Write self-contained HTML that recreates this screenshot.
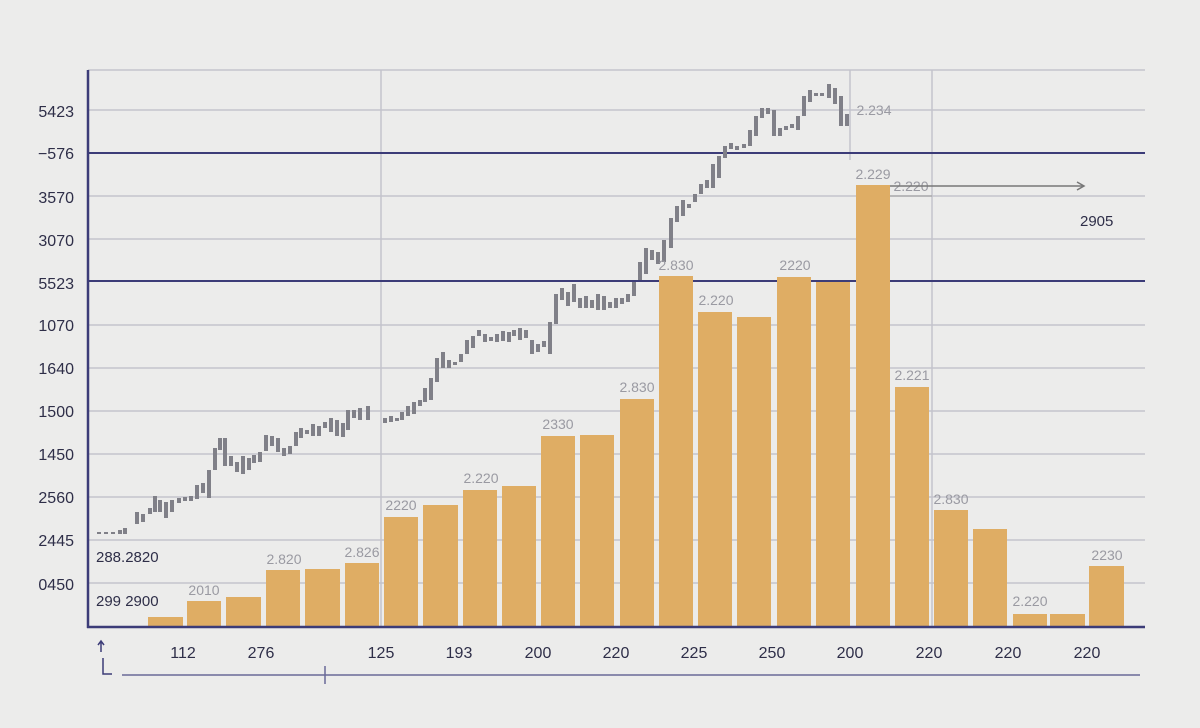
<!DOCTYPE html>
<html><head><style>
body{margin:0;background:#ececeb;}
svg{display:block}
text{font-family:"Liberation Sans",sans-serif;}
</style></head><body>
<svg width="1200" height="728" viewBox="0 0 1200 728">
<rect width="1200" height="728" fill="#ececeb"/>
<g stroke="#c4c4cc" stroke-width="1.5">
<line x1="88" y1="70" x2="1145" y2="70"/>
<line x1="88" y1="110" x2="1145" y2="110"/>
<line x1="88" y1="196" x2="1145" y2="196"/>
<line x1="88" y1="239" x2="1145" y2="239"/>
<line x1="88" y1="325" x2="1145" y2="325"/>
<line x1="88" y1="368" x2="1145" y2="368"/>
<line x1="88" y1="411" x2="1145" y2="411"/>
<line x1="88" y1="454" x2="1145" y2="454"/>
<line x1="88" y1="497" x2="1145" y2="497"/>
<line x1="88" y1="540" x2="1145" y2="540"/>
<line x1="88" y1="583" x2="1145" y2="583"/>
<line x1="381" y1="70" x2="381" y2="627"/>
<line x1="932" y1="70" x2="932" y2="627"/>
<line x1="850" y1="70" x2="850" y2="160"/>
</g>
<g stroke="#3c3c78" stroke-width="2">
<line x1="88" y1="153" x2="1145" y2="153"/>
<line x1="88" y1="281" x2="1145" y2="281"/>
</g>
<g fill="#dfad64">
<rect x="148" y="617" width="35" height="10"/>
<rect x="187" y="601" width="34" height="26"/>
<rect x="226" y="597" width="35" height="30"/>
<rect x="266" y="570" width="34" height="57"/>
<rect x="305" y="569" width="35" height="58"/>
<rect x="345" y="563" width="34" height="64"/>
<rect x="384" y="517" width="34" height="110"/>
<rect x="423" y="505" width="35" height="122"/>
<rect x="463" y="490" width="34" height="137"/>
<rect x="502" y="486" width="34" height="141"/>
<rect x="541" y="436" width="34" height="191"/>
<rect x="580" y="435" width="34" height="192"/>
<rect x="620" y="399" width="34" height="228"/>
<rect x="659" y="276" width="34" height="351"/>
<rect x="698" y="312" width="34" height="315"/>
<rect x="737" y="317" width="34" height="310"/>
<rect x="777" y="277" width="34" height="350"/>
<rect x="816" y="282" width="34" height="345"/>
<rect x="856" y="185" width="34" height="442"/>
<rect x="895" y="387" width="34" height="240"/>
<rect x="934" y="510" width="34" height="117"/>
<rect x="973" y="529" width="34" height="98"/>
<rect x="1013" y="614" width="34" height="13"/>
<rect x="1050" y="614" width="35" height="13"/>
<rect x="1089" y="566" width="35" height="61"/>
</g>
<g stroke="#3c3c78" stroke-width="2.5">
<line x1="88" y1="70" x2="88" y2="628"/>
<line x1="87" y1="627" x2="1145" y2="627"/>
</g>
<g fill="#808088">
<rect x="97" y="532" width="4" height="2"/><rect x="104" y="532" width="4" height="2"/><rect x="111" y="532" width="4" height="2"/><rect x="118" y="530" width="4" height="4"/><rect x="123" y="528" width="4" height="6"/>
<rect x="135" y="512" width="4" height="12"/><rect x="141" y="514" width="4" height="8"/><rect x="148" y="508" width="4" height="6"/><rect x="153" y="496" width="4" height="16"/><rect x="158" y="500" width="4" height="12"/><rect x="164" y="502" width="4" height="16"/><rect x="170" y="500" width="4" height="12"/><rect x="177" y="498" width="4" height="5"/><rect x="183" y="497" width="4" height="4"/><rect x="189" y="496" width="4" height="5"/><rect x="195" y="485" width="4" height="14"/><rect x="201" y="483" width="4" height="10"/><rect x="207" y="470" width="4" height="28"/><rect x="213" y="448" width="4" height="22"/><rect x="218" y="438" width="4" height="12"/><rect x="223" y="438" width="4" height="28"/><rect x="229" y="456" width="4" height="10"/><rect x="235" y="462" width="4" height="10"/><rect x="241" y="456" width="4" height="18"/><rect x="247" y="458" width="4" height="12"/><rect x="252" y="455" width="4" height="8"/><rect x="258" y="452" width="4" height="10"/><rect x="264" y="435" width="4" height="16"/><rect x="270" y="436" width="4" height="10"/><rect x="276" y="438" width="4" height="14"/><rect x="282" y="448" width="4" height="8"/><rect x="288" y="446" width="4" height="8"/><rect x="294" y="432" width="4" height="14"/><rect x="299" y="428" width="4" height="10"/><rect x="305" y="430" width="4" height="4"/><rect x="311" y="424" width="4" height="12"/><rect x="317" y="426" width="4" height="10"/><rect x="323" y="422" width="4" height="6"/><rect x="329" y="418" width="4" height="14"/><rect x="335" y="420" width="4" height="16"/><rect x="341" y="423" width="4" height="14"/><rect x="346" y="410" width="4" height="20"/><rect x="352" y="410" width="4" height="8"/><rect x="358" y="408" width="4" height="12"/><rect x="366" y="406" width="4" height="14"/>
<rect x="383" y="418" width="4" height="5"/><rect x="389" y="416" width="4" height="6"/><rect x="395" y="418" width="4" height="3"/><rect x="400" y="412" width="4" height="8"/><rect x="406" y="406" width="4" height="10"/><rect x="412" y="402" width="4" height="12"/><rect x="418" y="400" width="4" height="6"/><rect x="423" y="388" width="4" height="14"/><rect x="429" y="378" width="4" height="22"/><rect x="435" y="358" width="4" height="24"/><rect x="441" y="352" width="4" height="16"/><rect x="447" y="360" width="4" height="8"/><rect x="453" y="362" width="4" height="3"/><rect x="459" y="354" width="4" height="8"/><rect x="465" y="340" width="4" height="14"/><rect x="471" y="336" width="4" height="12"/><rect x="477" y="330" width="4" height="6"/><rect x="483" y="334" width="4" height="8"/><rect x="489" y="337" width="4" height="4"/><rect x="495" y="334" width="4" height="8"/><rect x="501" y="331" width="4" height="10"/><rect x="507" y="332" width="4" height="10"/><rect x="512" y="330" width="4" height="6"/><rect x="518" y="328" width="4" height="12"/><rect x="524" y="330" width="4" height="8"/><rect x="530" y="340" width="4" height="14"/><rect x="536" y="344" width="4" height="8"/><rect x="542" y="341" width="4" height="6"/><rect x="548" y="322" width="4" height="32"/><rect x="554" y="294" width="4" height="30"/><rect x="560" y="288" width="4" height="12"/><rect x="566" y="292" width="4" height="14"/><rect x="572" y="284" width="4" height="18"/><rect x="578" y="298" width="4" height="10"/><rect x="584" y="296" width="4" height="12"/><rect x="590" y="300" width="4" height="8"/><rect x="596" y="294" width="4" height="16"/><rect x="602" y="296" width="4" height="14"/><rect x="608" y="302" width="4" height="6"/><rect x="614" y="298" width="4" height="10"/><rect x="620" y="298" width="4" height="6"/><rect x="626" y="294" width="4" height="8"/><rect x="632" y="282" width="4" height="14"/><rect x="638" y="262" width="4" height="18"/><rect x="644" y="248" width="4" height="26"/><rect x="650" y="250" width="4" height="10"/><rect x="656" y="252" width="4" height="12"/><rect x="662" y="240" width="4" height="22"/><rect x="669" y="218" width="4" height="30"/><rect x="675" y="206" width="4" height="16"/><rect x="681" y="200" width="4" height="16"/><rect x="687" y="204" width="4" height="4"/><rect x="693" y="194" width="4" height="8"/><rect x="699" y="184" width="4" height="10"/><rect x="705" y="180" width="4" height="8"/><rect x="711" y="164" width="4" height="24"/><rect x="717" y="156" width="4" height="22"/><rect x="723" y="146" width="4" height="12"/><rect x="729" y="143" width="4" height="6"/><rect x="735" y="146" width="4" height="4"/><rect x="742" y="144" width="4" height="4"/><rect x="748" y="130" width="4" height="16"/><rect x="754" y="116" width="4" height="20"/><rect x="760" y="108" width="4" height="10"/><rect x="766" y="108" width="4" height="6"/><rect x="772" y="110" width="4" height="26"/><rect x="778" y="128" width="4" height="8"/><rect x="784" y="126" width="4" height="4"/><rect x="790" y="124" width="4" height="4"/><rect x="796" y="116" width="4" height="14"/><rect x="802" y="96" width="4" height="20"/><rect x="808" y="90" width="4" height="12"/><rect x="814" y="93" width="4" height="3"/><rect x="820" y="93" width="4" height="3"/><rect x="827" y="84" width="4" height="14"/><rect x="833" y="88" width="4" height="16"/><rect x="839" y="96" width="4" height="30"/><rect x="845" y="114" width="4" height="12"/>
</g>
<g font-size="14" fill="#9a9aa2" text-anchor="middle">
<text x="204" y="595">2010</text>
<text x="284" y="564">2.820</text>
<text x="362" y="557">2.826</text>
<text x="401" y="510">2220</text>
<text x="481" y="483">2.220</text>
<text x="558" y="429">2330</text>
<text x="637" y="392">2.830</text>
<text x="676" y="270">2.830</text>
<text x="716" y="305">2.220</text>
<text x="795" y="270">2220</text>
<text x="873" y="179">2.229</text>
<text x="912" y="380">2.221</text>
<text x="951" y="504">2.830</text>
<text x="1030" y="606">2.220</text>
<text x="1107" y="560">2230</text>
<text x="874" y="115">2.234</text>
<text x="911" y="191">2.220</text>
</g>
<line x1="890" y1="186" x2="1083" y2="186" stroke="#777" stroke-width="1.5"/>
<path d="M1077 182 L1084 186 L1077 190" fill="none" stroke="#777" stroke-width="1.5"/>
<line x1="890" y1="196" x2="932" y2="196" stroke="#999" stroke-width="1"/>
<g font-size="15" fill="#2e2e48">
<text x="1080" y="226">2905</text>
<text x="96" y="562">288.2820</text>
<text x="96" y="606">299 2900</text>
</g>
<g font-size="16" fill="#2e2e48" text-anchor="end">
<text x="74" y="117">5423</text>
<text x="74" y="159">−576</text>
<text x="74" y="203">3570</text>
<text x="74" y="246">3070</text>
<text x="74" y="289">5523</text>
<text x="74" y="331">1070</text>
<text x="74" y="374">1640</text>
<text x="74" y="417">1500</text>
<text x="74" y="460">1450</text>
<text x="74" y="503">2560</text>
<text x="74" y="546">2445</text>
<text x="74" y="590">0450</text>
</g>
<g font-size="16" fill="#2e2e48" text-anchor="middle">
<text x="183" y="658">112</text>
<text x="261" y="658">276</text>
<text x="381" y="658">125</text>
<text x="459" y="658">193</text>
<text x="538" y="658">200</text>
<text x="616" y="658">220</text>
<text x="694" y="658">225</text>
<text x="772" y="658">250</text>
<text x="850" y="658">200</text>
<text x="929" y="658">220</text>
<text x="1008" y="658">220</text>
<text x="1087" y="658">220</text>
</g>
<line x1="122" y1="675" x2="1140" y2="675" stroke="#6a6a98" stroke-width="1.5"/>
<line x1="325" y1="666" x2="325" y2="684" stroke="#6a6a98" stroke-width="1.5"/>
<path d="M101 652 V642 M98 645 L101 641 L104 645" fill="none" stroke="#3c3c78" stroke-width="1.5"/>
<path d="M103 658 V674 H112" fill="none" stroke="#3c3c78" stroke-width="1.5"/>
</svg>
</body></html>
